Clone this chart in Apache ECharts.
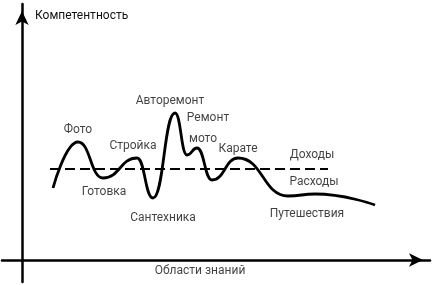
<!DOCTYPE html>
<html>
<head>
<meta charset="utf-8">
<script src="https://cdn.jsdelivr.net/npm/echarts@6/dist/echarts.min.js"></script>
<style>html,body{margin:0;padding:0;background:#fff;}#c{width:442px;height:285px;}</style>
</head>
<body>
<div id="c"></div>
<script>
// Competence curve (x: areas of knowledge, y: competence) - turning points
const curveX = [7.75, 14, 20.25, 28.75, 32.75, 38.25, 41.25, 43.75, 47.5, 54, 66.5, 73.25, 88.25];
const curveY = [36, 59, 41, 51, 31, 73.5, 52.5, 56, 40, 51, 32, 33, 27.5];
// Income / expenses dashed level
const levelX = [7, 76.5];
const levelY = [45.5, 45.5];
// Annotations
const labelNames = ['Фото', 'Готовка', 'Стройка', 'Сантехника', 'Авторемонт', 'Ремонт', 'мото', 'Карате', 'Доходы', 'Расходы', 'Путешествия', 'Области знаний'];
const labelX = [14, 20.5, 27.75, 35.25, 37, 46.5, 45.25, 54, 72.5, 73, 71.25, 44.5];
const labelY = [65, 34, 57, 21, 79.5, 71, 60.5, 55.5, 52.5, 39, 23, -5.5];
const yAxisTitle = 'Компетентность';

const FONT = 'Roboto';
const FS = 12;
const chart = echarts.init(document.getElementById('c'), null, {renderer: 'canvas'});
const axisCommon = {
  type: 'value',
  axisTick: {show: false},
  axisLabel: {show: false},
  splitLine: {show: false},
};
chart.setOption({
  animation: false,
  backgroundColor: '#fff',
  grid: {left: 2, right: 12, top: 4, bottom: 3, containLabel: false, outerBoundsMode: 'none'},
  xAxis: Object.assign({}, axisCommon, {
    min: -5, max: 102,
    axisLine: {show: true, onZero: true, symbol: ['none', 'arrow'], symbolSize: [10, 14], symbolOffset: [0, -7],
      lineStyle: {color: '#000', width: 2.5}}
  }),
  yAxis: Object.assign({}, axisCommon, {
    min: -11, max: 128,
    axisLine: {show: true, onZero: true, symbol: ['none', 'arrow'], symbolSize: [10, 14], symbolOffset: [0, -7],
      lineStyle: {color: '#000', width: 2.5}},
    name: yAxisTitle, nameLocation: 'end', nameGap: -12,
    nameTextStyle: {fontFamily: FONT, fontSize: FS, color: '#111', align: 'left', verticalAlign: 'middle', padding: [0, 0, 0, 13]}
  }),
  series: [
    {
      type: 'line', smooth: 0.5, smoothMonotone: 'x', symbol: 'none',
      lineStyle: {color: '#000', width: 2.8},
      data: curveX.map((x, i) => [x, curveY[i]])
    },
    {
      type: 'line', symbol: 'none',
      lineStyle: {color: '#000', width: 2, type: [10, 5]},
      data: levelX.map((x, i) => [x, levelY[i]])
    },
    {
      type: 'scatter', symbolSize: 0,
      label: {show: true, position: 'inside', formatter: p => p.data[2], fontFamily: FONT, fontSize: FS, color: '#111'},
      data: labelX.map((x, i) => [x, labelY[i], labelNames[i]])
    }
  ]
});
</script>
</body>
</html>
